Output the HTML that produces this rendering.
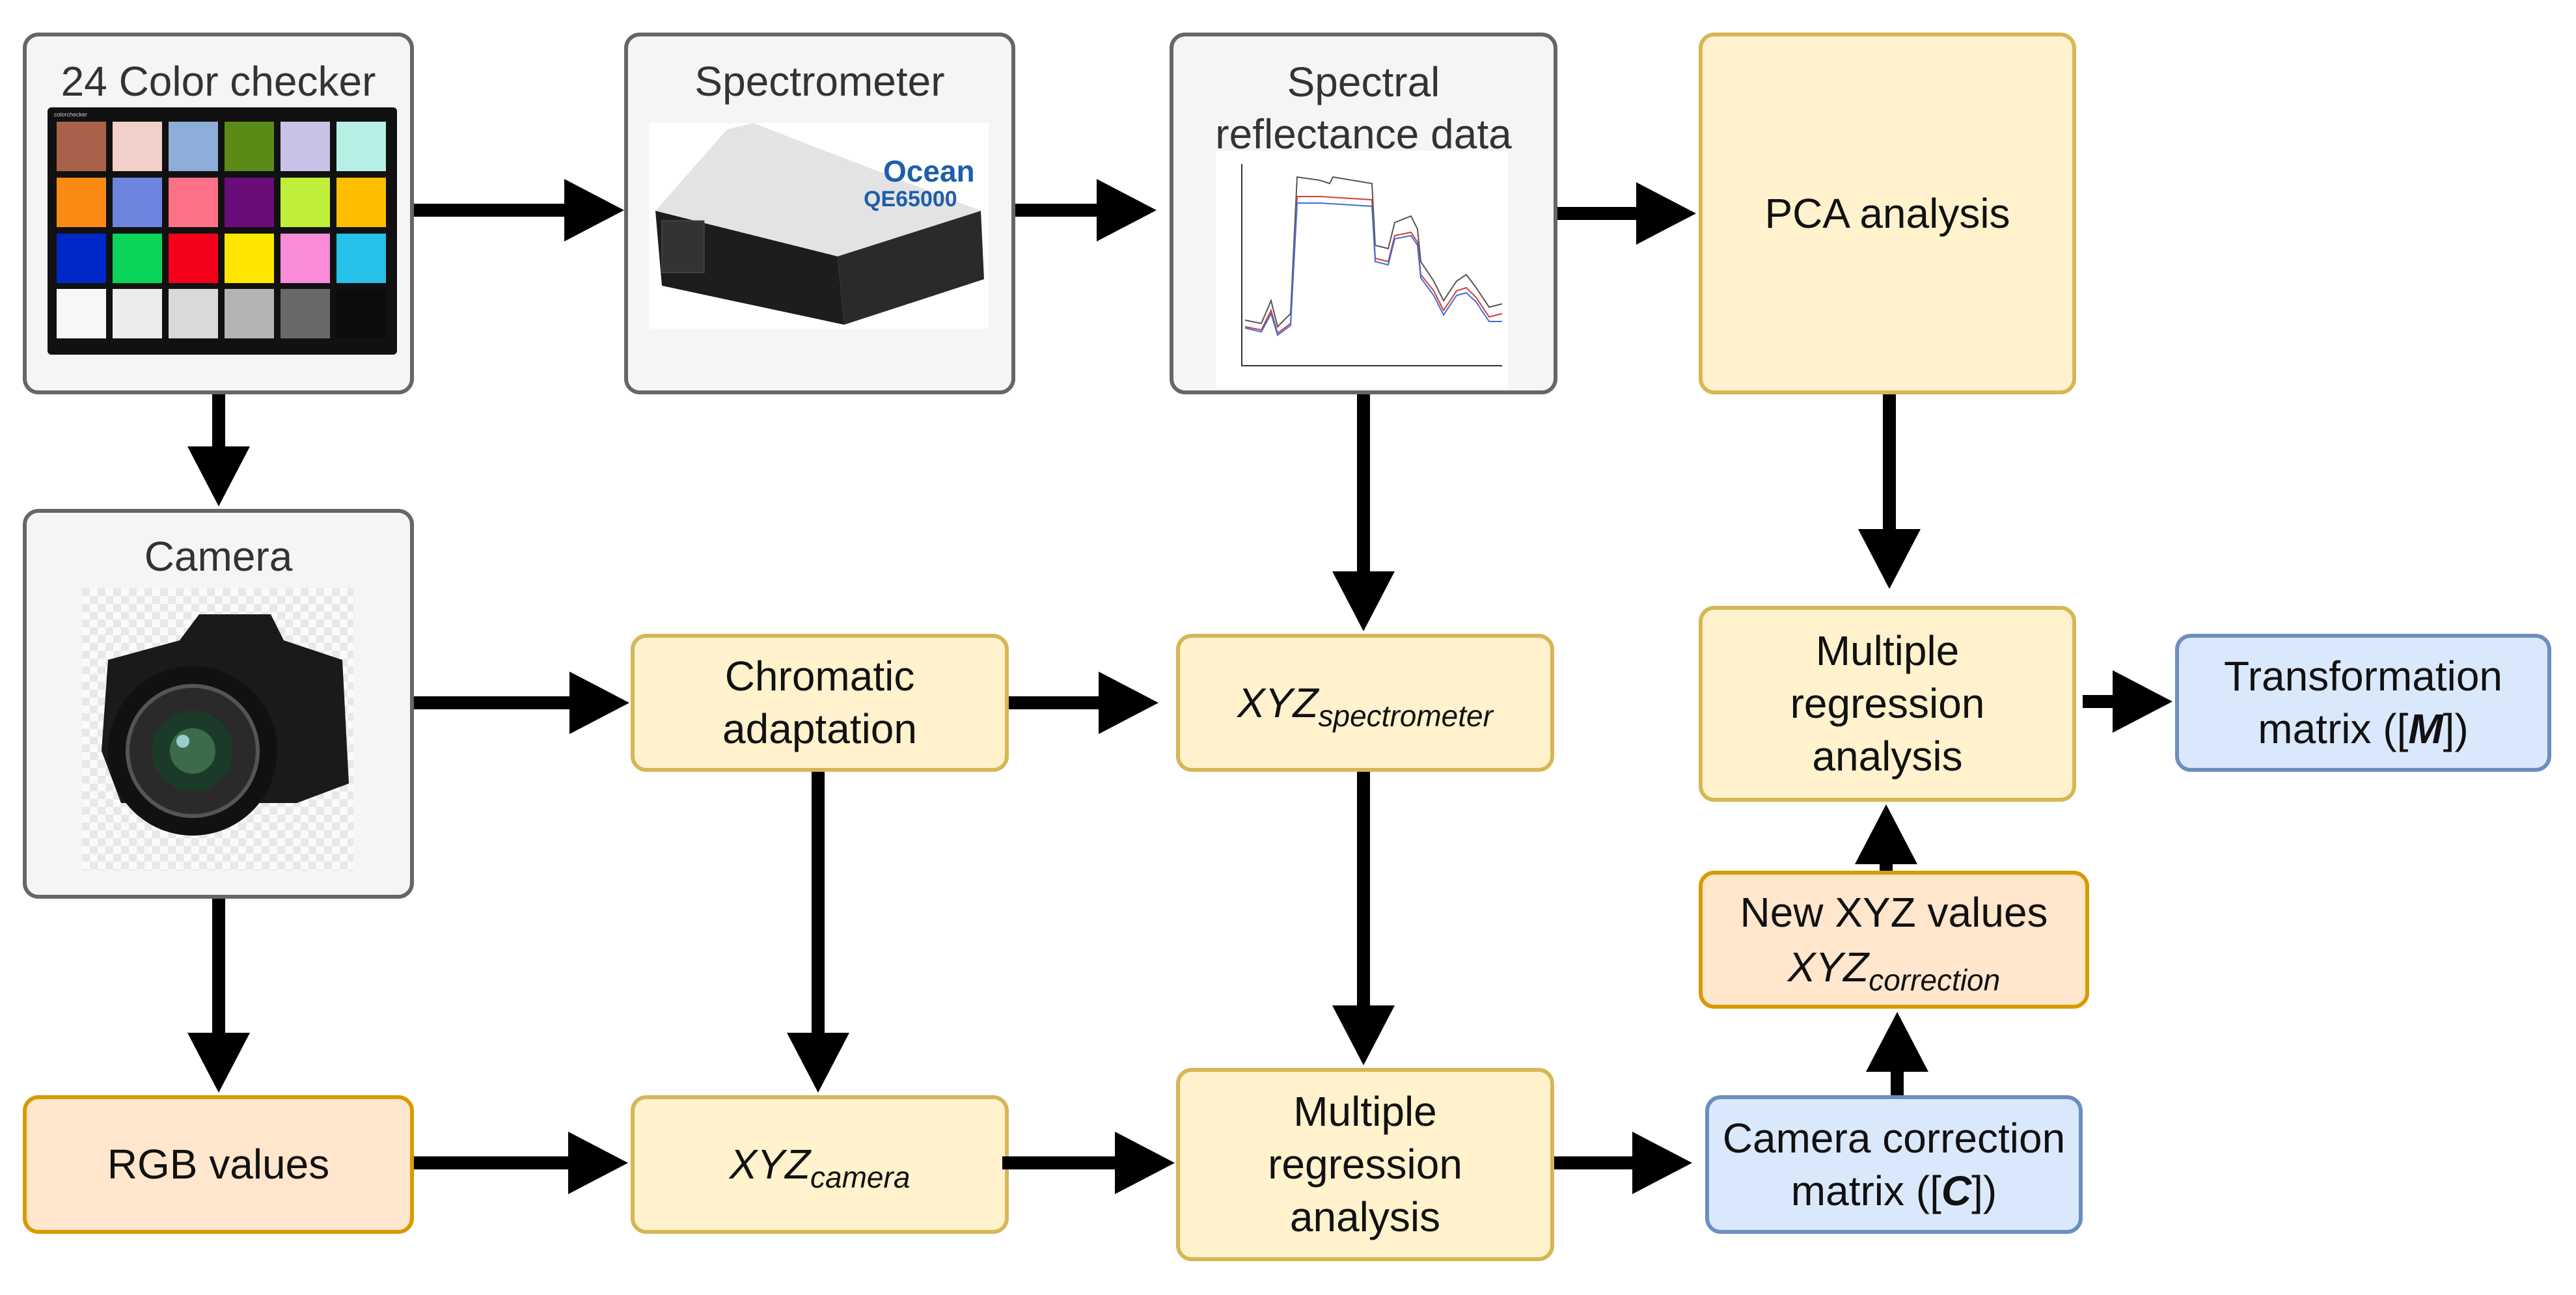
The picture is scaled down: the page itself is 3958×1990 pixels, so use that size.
<!DOCTYPE html>
<html><head><meta charset="utf-8"><style>
body{margin:0;width:3958px;height:1990px;background:#fff;position:relative;overflow:hidden;font-family:"Liberation Sans",Arial,sans-serif;}
.b{position:absolute;box-sizing:border-box;border-radius:24px;display:flex;align-items:center;justify-content:center;text-align:center;font-size:64px;line-height:81px;color:#111;}
.g{background:#f5f5f5;border:6px solid #666;align-items:flex-start;color:#333;}
.y{background:#fff2cc;border:6px solid #d6b656;}
.o{background:#ffe6cc;border:6px solid #d79b00;}
.u{background:#dae8fc;border:6px solid #6c8ebf;}
.t{position:absolute;left:0;right:0;text-align:center;font-size:64px;line-height:78px;color:#333;}
sub{font-size:46px;vertical-align:-14px;line-height:0;}
i{font-style:italic;}
.p{position:absolute;width:76px;height:76px;}
</style></head><body>

<div class="b g" style="left:35px;top:50px;width:601px;height:556px;"><div class="t" style="top:30px;">24 Color checker</div></div>
<div style="position:absolute;left:73px;top:165px;width:537px;height:380px;background:#111;border-radius:6px;">
<div style="position:absolute;left:10px;top:6px;font-size:9px;color:#ccc;">colorchecker</div>
</div>

<div class="b g" style="left:959px;top:50px;width:601px;height:556px;"><div class="t" style="top:30px;">Spectrometer</div></div>
<svg style="position:absolute;left:997px;top:189px;" width="522" height="316">
<rect width="522" height="316" fill="#fff"/>
<polygon points="120,10 160,0 510,135 290,205 10,135" fill="#e3e3e5"/>
<polygon points="10,135 290,205 300,310 20,250" fill="#1d1d1d"/>
<polygon points="290,205 510,135 515,240 300,310" fill="#2a2a2a"/>
<rect x="20" y="150" width="65" height="80" fill="#333" stroke="#555"/>
<text x="360" y="90" font-size="46" font-weight="bold" fill="#1f5ea8" font-family="Liberation Sans">Ocean</text>
<text x="330" y="128" font-size="34" font-weight="bold" fill="#1f5ea8" font-family="Liberation Sans">QE65000</text>
</svg>

<div class="b g" style="left:1797px;top:50px;width:596px;height:556px;"><div class="t" style="top:30px;line-height:80px;">Spectral<br>reflectance data</div></div>
<svg style="position:absolute;left:1868px;top:232px;" width="449" height="364">
<rect width="449" height="364" fill="#fff"/>
<path d="M40,20 V330 H440" stroke="#333" stroke-width="2" fill="none"/>
<path d="M45,260 L70,265 L85,230 L95,270 L115,250 L125,40 L160,45 L175,50 L180,40 L240,50 L245,145 L265,150 L275,110 L300,100 L310,120 L315,170 L335,200 L350,230 L370,200 L385,190 L400,210 L420,240 L440,235" stroke="#555" stroke-width="2" fill="none"/>
<path d="M45,270 L70,275 L85,245 L95,280 L115,265 L125,70 L160,70 L240,75 L245,165 L265,170 L275,130 L300,125 L310,140 L315,190 L335,215 L350,245 L370,215 L385,210 L400,225 L420,255 L440,250" stroke="#d23c3c" stroke-width="2" fill="none"/>
<path d="M45,272 L70,278 L85,250 L95,283 L115,268 L125,80 L160,80 L240,85 L245,170 L265,175 L275,135 L300,130 L310,145 L315,195 L335,222 L350,252 L370,222 L385,218 L400,232 L420,262 L440,262" stroke="#3a6fd8" stroke-width="2" fill="none"/>
</svg>

<div class="b y" style="left:2610px;top:50px;width:580px;height:556px;"><div>PCA analysis</div></div>

<div class="b g" style="left:35px;top:782px;width:601px;height:599px;"><div class="t" style="top:28px;">Camera</div></div>
<svg style="position:absolute;left:126px;top:904px;" width="417" height="434">
<defs><pattern id="ch" width="24" height="24" patternUnits="userSpaceOnUse"><rect width="24" height="24" fill="#fafafa"/><rect width="12" height="12" fill="#e8e8e8"/><rect x="12" y="12" width="12" height="12" fill="#e8e8e8"/></pattern></defs>
<rect width="417" height="434" fill="url(#ch)"/>
<path d="M40,110 L150,80 L180,40 L290,40 L310,80 L400,110 L410,300 L330,330 L60,330 L30,250 Z" fill="#1a1a1a"/>
<circle cx="170" cy="250" r="130" fill="#111"/>
<circle cx="170" cy="250" r="100" fill="#2a2a2a" stroke="#555" stroke-width="6"/>
<circle cx="170" cy="250" r="62" fill="#1b3a2a"/>
<circle cx="170" cy="250" r="35" fill="#3b6b4b"/>
<circle cx="155" cy="235" r="10" fill="#9cc"/>
</svg>

<div class="b y" style="left:969px;top:974px;width:581px;height:212px;"><div>Chromatic<br>adaptation</div></div>
<div class="b y" style="left:1807px;top:974px;width:581px;height:212px;"><div><i>XYZ<sub>spectrometer</sub></i></div></div>
<div class="b y" style="left:2610px;top:931px;width:580px;height:301px;"><div>Multiple<br>regression<br>analysis</div></div>
<div class="b u" style="left:3342px;top:974px;width:578px;height:212px;"><div>Transformation<br>matrix ([<b><i>M</i></b>])</div></div>
<div class="b o" style="left:2610px;top:1338px;width:600px;height:212px;line-height:84px;"><div>New XYZ values<br><i>XYZ<sub>correction</sub></i></div></div>
<div class="b o" style="left:35px;top:1683px;width:601px;height:213px;"><div>RGB values</div></div>
<div class="b y" style="left:969px;top:1683px;width:581px;height:213px;"><div><i>XYZ<sub>camera</sub></i></div></div>
<div class="b y" style="left:1807px;top:1641px;width:581px;height:297px;"><div>Multiple<br>regression<br>analysis</div></div>
<div class="b u" style="left:2620px;top:1683px;width:580px;height:213px;"><div>Camera correction<br>matrix ([<b><i>C</i></b>])</div></div>

<svg style="position:absolute;left:0;top:0;" width="3958" height="1990">
<defs><marker id="a" markerWidth="4.6" markerHeight="4.8" refX="0" refY="2.4" orient="auto" markerUnits="strokeWidth"><path d="M0,0 L4.6,2.4 L0,4.8 Z" fill="#000"/></marker></defs>
<g stroke="#000" stroke-width="20" marker-end="url(#a)">
<line x1="636" y1="323" x2="867" y2="323"/>
<line x1="1560" y1="323" x2="1685" y2="323"/>
<line x1="2393" y1="328" x2="2514" y2="328"/>
<line x1="636" y1="1080" x2="875" y2="1080"/>
<line x1="1550" y1="1080" x2="1688" y2="1080"/>
<line x1="3200" y1="1078" x2="3246" y2="1078"/>
<line x1="636" y1="1787" x2="873" y2="1787"/>
<line x1="1540" y1="1787" x2="1713" y2="1787"/>
<line x1="2388" y1="1787" x2="2508" y2="1787"/>
<line x1="336" y1="606" x2="336" y2="686"/>
<line x1="2095" y1="606" x2="2095" y2="878"/>
<line x1="2903" y1="606" x2="2903" y2="813"/>
<line x1="336" y1="1381" x2="336" y2="1587"/>
<line x1="1257" y1="1186" x2="1257" y2="1587"/>
<line x1="2095" y1="1186" x2="2095" y2="1545"/>
<line x1="2915" y1="1683" x2="2915" y2="1647"/>
<line x1="2898" y1="1338" x2="2898" y2="1328"/>
</g></svg>

<div style="position:absolute;left:0;top:0;">
<div class="p" style="left:87px;top:187px;background:#a9614a"></div><div class="p" style="left:173px;top:187px;background:#f2cfc8"></div><div class="p" style="left:259px;top:187px;background:#8eadd8"></div><div class="p" style="left:345px;top:187px;background:#5c8a16"></div><div class="p" style="left:431px;top:187px;background:#c7c3e6"></div><div class="p" style="left:517px;top:187px;background:#b6efe6"></div>
<div class="p" style="left:87px;top:273px;background:#fa8a14"></div><div class="p" style="left:173px;top:273px;background:#6e85e0"></div><div class="p" style="left:259px;top:273px;background:#fc7185"></div><div class="p" style="left:345px;top:273px;background:#6a0d7a"></div><div class="p" style="left:431px;top:273px;background:#c0ef3a"></div><div class="p" style="left:517px;top:273px;background:#ffbe00"></div>
<div class="p" style="left:87px;top:359px;background:#0028c8"></div><div class="p" style="left:173px;top:359px;background:#0ad45a"></div><div class="p" style="left:259px;top:359px;background:#f5001a"></div><div class="p" style="left:345px;top:359px;background:#ffe600"></div><div class="p" style="left:431px;top:359px;background:#f88cd8"></div><div class="p" style="left:517px;top:359px;background:#26c2ea"></div>
<div class="p" style="left:87px;top:444px;background:#f7f7f7"></div><div class="p" style="left:173px;top:444px;background:#ececec"></div><div class="p" style="left:259px;top:444px;background:#d9d9d9"></div><div class="p" style="left:345px;top:444px;background:#b5b3b3"></div><div class="p" style="left:431px;top:444px;background:#69686a"></div><div class="p" style="left:517px;top:444px;background:#0c0c0c"></div>
</div>
</body></html>
